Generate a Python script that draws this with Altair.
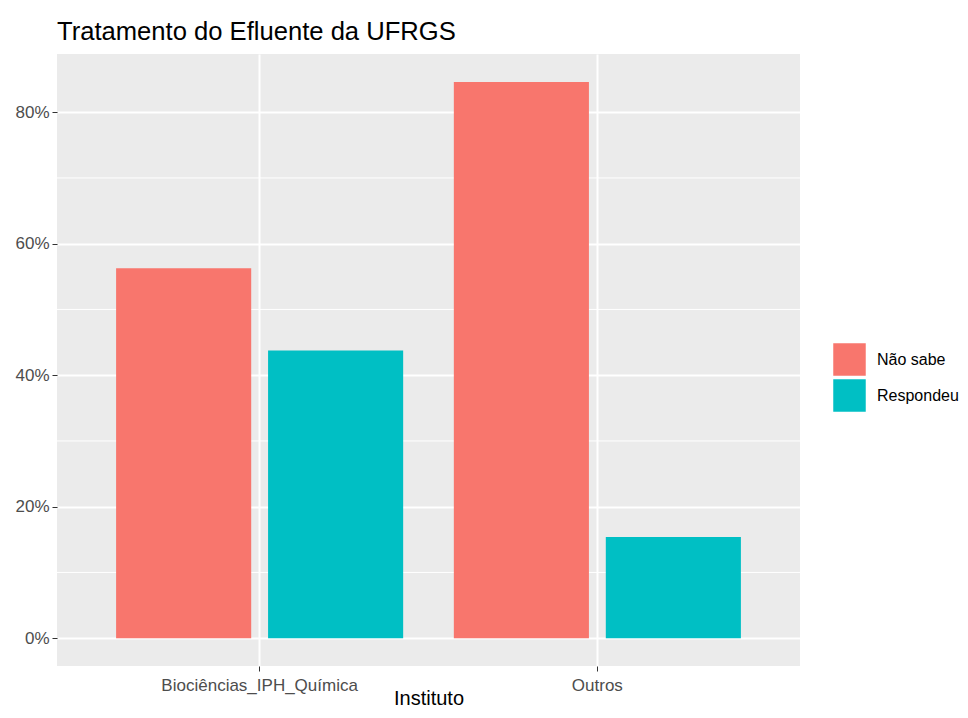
import altair as alt
import pandas as pd

instituto = ["Biociências_IPH_Química", "Biociências_IPH_Química", "Outros", "Outros"]
resposta = ["Não sabe", "Respondeu", "Não sabe", "Respondeu"]
percent = [0.5625, 0.4375, 0.846, 0.154]
minor_breaks = [0.1, 0.3, 0.5, 0.7]
major_breaks = [0.0, 0.2, 0.4, 0.6, 0.8]
series = ["Não sabe", "Respondeu"]
colors = ["#F8766D", "#00BFC4"]

df = pd.DataFrame({"Instituto": instituto, "Resposta": resposta, "Percent": percent})
minor_df = pd.DataFrame({"v": minor_breaks})

FONT = "Liberation Sans"
yscale = alt.Scale(domain=[-0.0423, 0.8885], nice=False, zero=False)

rules = alt.Chart(minor_df).mark_rule(color="white", strokeWidth=1).encode(
    y=alt.Y("v:Q", scale=yscale, title=None)
)

bars = alt.Chart(df).mark_bar().encode(
    x=alt.X(
        "Instituto:N",
        sort=["Biociências_IPH_Química", "Outros"],
        scale=alt.Scale(paddingInner=0, paddingOuter=0.1),
        axis=alt.Axis(
            title="Instituto", labelAngle=0, labelFontSize=17, labelColor="#4D4D4D",
            labelFont=FONT, labelLimit=0, tickColor="#333333", tickSize=5, tickWidth=1,
            labelPadding=6, domain=False, grid=True, gridColor="white", gridWidth=2,
            bandPosition=0.5, titleFontSize=20, titleFontWeight="normal",
            titleColor="black", titleFont=FONT, titleBaseline="alphabetic", titleY=38,
        ),
    ),
    xOffset=alt.XOffset(
        "Resposta:N", sort=series,
        scale=alt.Scale(paddingInner=0.111, paddingOuter=0.1667),
    ),
    y=alt.Y(
        "Percent:Q",
        scale=yscale,
        axis=alt.Axis(
            title=None, values=major_breaks, format=".0%", labelFontSize=17,
            labelColor="#4D4D4D", labelFont=FONT, tickColor="#333333", tickSize=5,
            tickWidth=1, labelPadding=3, domain=False, grid=True, gridColor="white",
            gridWidth=2,
        ),
    ),
    color=alt.Color(
        "Resposta:N",
        scale=alt.Scale(domain=series, range=colors),
        legend=alt.Legend(
            title=None, orient="none", legendX=776, legendY=289, padding=0,
            symbolType="square", symbolSize=1056, symbolStrokeWidth=0,
            symbolOpacity=1, labelFontSize=16, labelFont=FONT, labelColor="black",
            labelOffset=11, rowPadding=3,
        ),
    ),
)

chart = alt.layer(rules, bars).properties(
    width=743,
    height=612,
    padding={"left": 49, "top": 46, "right": 160, "bottom": 44},
    autosize=alt.AutoSizeParams(type="none"),
    title=alt.Title(
        "Tratamento do Efluente da UFRGS", anchor="start", frame="group",
        fontSize=25.6, font=FONT, fontWeight="normal", color="black",
        baseline="alphabetic", offset=17, dy=29,
    ),
).configure_view(fill="#EBEBEB", stroke=None)

chart.save("out.html", embed_options={"renderer": "svg", "actions": False})
